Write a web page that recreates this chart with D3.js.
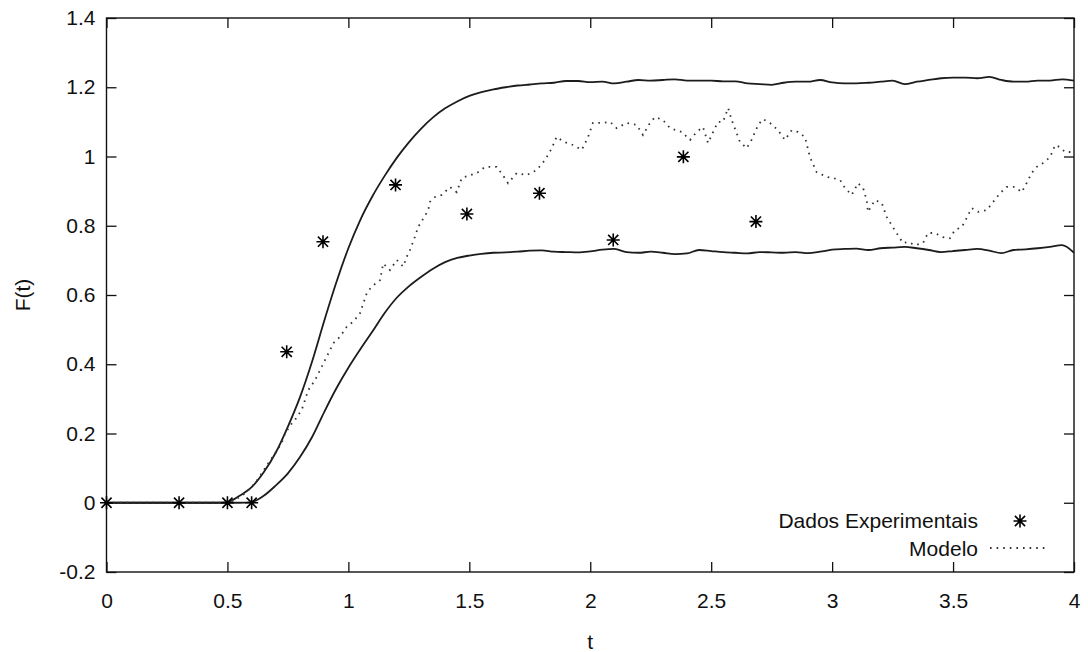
<!DOCTYPE html>
<html>
<head>
<meta charset="utf-8">
<script src="https://cdn.jsdelivr.net/npm/d3@7"></script>
<style>
  html, body { margin: 0; padding: 0; background: #fff; }
  svg { display: block; }
  text { font-family: "Liberation Sans", Arial, sans-serif; fill: #111; }
</style>
</head>
<body>
<svg id="chart" width="1088" height="652"></svg>
<script>
// Time grid shared by the two envelope curves (t)
const timeGrid = [
  0.00, 0.05, 0.10, 0.15, 0.20, 0.25, 0.30, 0.35, 0.40, 0.45,
  0.50, 0.55, 0.60, 0.65, 0.70, 0.75, 0.80, 0.85, 0.90, 0.95,
  1.00, 1.05, 1.10, 1.15, 1.20, 1.25, 1.30, 1.35, 1.40, 1.45,
  1.50, 1.55, 1.60, 1.65, 1.70, 1.75, 1.80, 1.85, 1.90, 1.95,
  2.00, 2.05, 2.10, 2.15, 2.20, 2.25, 2.30, 2.35, 2.40, 2.45,
  2.50, 2.55, 2.60, 2.65, 2.70, 2.75, 2.80, 2.85, 2.90, 2.95,
  3.00, 3.05, 3.10, 3.15, 3.20, 3.25, 3.30, 3.35, 3.40, 3.45,
  3.50, 3.55, 3.60, 3.65, 3.70, 3.75, 3.80, 3.85, 3.90, 3.95,
  4.00
];

// Upper envelope F(t)
const upperF = [
  0, 0, 0, 0, 0, 0, 0, 0, 0, 0,
  0.002, 0.020, 0.045, 0.088, 0.145, 0.220, 0.305, 0.408, 0.525, 0.636,
  0.735, 0.818, 0.886, 0.944, 0.996, 1.041, 1.080, 1.113, 1.139, 1.159,
  1.175, 1.186, 1.194, 1.200, 1.205, 1.208, 1.211, 1.213, 1.218, 1.218,
  1.215, 1.216, 1.211, 1.216, 1.221, 1.219, 1.221, 1.223, 1.219, 1.219,
  1.219, 1.217, 1.217, 1.211, 1.209, 1.207, 1.213, 1.216, 1.216, 1.221,
  1.214, 1.211, 1.211, 1.213, 1.216, 1.219, 1.209, 1.216, 1.221, 1.226,
  1.228, 1.228, 1.226, 1.230, 1.221, 1.216, 1.216, 1.219, 1.219, 1.223,
  1.219
];

// Lower envelope F(t)
const lowerF = [
  0, 0, 0, 0, 0, 0, 0, 0, 0, 0,
  0, 0, 0.002, 0.020, 0.050, 0.085, 0.132, 0.190, 0.262, 0.330,
  0.390, 0.444, 0.495, 0.548, 0.592, 0.625, 0.652, 0.676, 0.695, 0.707,
  0.714, 0.719, 0.722, 0.723, 0.725, 0.728, 0.729, 0.725, 0.724, 0.723,
  0.726, 0.731, 0.733, 0.724, 0.722, 0.725, 0.722, 0.718, 0.720, 0.730,
  0.727, 0.724, 0.722, 0.720, 0.724, 0.723, 0.722, 0.724, 0.721, 0.725,
  0.731, 0.733, 0.734, 0.730, 0.735, 0.737, 0.739, 0.735, 0.730, 0.724,
  0.727, 0.730, 0.733, 0.728, 0.721, 0.730, 0.732, 0.735, 0.739, 0.744,
  0.722
];

// Model curve ("Modelo")
const modelT = [
  0.000, 0.500, 0.531, 0.573, 0.614, 0.642, 0.669, 0.697, 0.724, 0.738,
  0.766, 0.779, 0.807, 0.821, 0.834, 0.862, 0.890, 0.917, 0.938, 0.965,
  0.993, 1.020, 1.048, 1.076, 1.096, 1.131, 1.144, 1.172, 1.200, 1.227,
  1.241, 1.255, 1.275, 1.289, 1.310, 1.330, 1.337, 1.358, 1.386, 1.420,
  1.448, 1.469, 1.503, 1.531, 1.565, 1.613, 1.639, 1.660, 1.696, 1.737,
  1.779, 1.813, 1.841, 1.861, 1.889, 1.930, 1.965, 1.991, 2.011, 2.053,
  2.082, 2.109, 2.151, 2.192, 2.218, 2.247, 2.268, 2.301, 2.330, 2.378,
  2.413, 2.440, 2.466, 2.487, 2.508, 2.528, 2.549, 2.570, 2.585, 2.605,
  2.619, 2.647, 2.667, 2.694, 2.714, 2.743, 2.776, 2.805, 2.833, 2.859,
  2.888, 2.908, 2.936, 2.978, 3.004, 3.033, 3.053, 3.081, 3.107, 3.128,
  3.143, 3.148, 3.177, 3.205, 3.226, 3.246, 3.272, 3.293, 3.314, 3.343,
  3.376, 3.396, 3.425, 3.458, 3.487, 3.508, 3.536, 3.556, 3.577, 3.603,
  3.639, 3.665, 3.694, 3.722, 3.756, 3.784, 3.804, 3.825, 3.846, 3.872,
  3.901, 3.922, 3.942, 3.963, 3.996
];
const modelF = [
  0.000, 0.000, 0.008, 0.027, 0.056, 0.085, 0.114, 0.143, 0.172, 0.200,
  0.229, 0.239, 0.268, 0.297, 0.325, 0.354, 0.393, 0.431, 0.461, 0.479,
  0.508, 0.523, 0.547, 0.605, 0.624, 0.643, 0.691, 0.672, 0.701, 0.682,
  0.710, 0.730, 0.768, 0.797, 0.821, 0.845, 0.869, 0.883, 0.889, 0.912,
  0.897, 0.938, 0.946, 0.952, 0.970, 0.970, 0.946, 0.923, 0.952, 0.946,
  0.961, 0.990, 1.024, 1.057, 1.043, 1.033, 1.019, 1.056, 1.097, 1.097,
  1.100, 1.082, 1.097, 1.091, 1.062, 1.097, 1.114, 1.105, 1.082, 1.071,
  1.048, 1.071, 1.085, 1.039, 1.071, 1.100, 1.100, 1.140, 1.105, 1.068,
  1.042, 1.024, 1.048, 1.091, 1.108, 1.097, 1.076, 1.048, 1.076, 1.071,
  1.056, 0.999, 0.955, 0.941, 0.938, 0.932, 0.909, 0.889, 0.923, 0.909,
  0.874, 0.840, 0.874, 0.866, 0.825, 0.802, 0.773, 0.750, 0.753, 0.744,
  0.750, 0.779, 0.779, 0.767, 0.764, 0.788, 0.796, 0.822, 0.851, 0.840,
  0.845, 0.868, 0.894, 0.912, 0.912, 0.897, 0.923, 0.952, 0.970, 0.981,
  0.998, 1.033, 1.027, 1.013, 1.013
];

// Experimental data ("Dados Experimentais")
const expT = [0, 0.30, 0.50, 0.60, 0.745, 0.895, 1.195, 1.49, 1.79, 2.095, 2.385, 2.685];
const expF = [0, 0, 0, 0, 0.436, 0.754, 0.918, 0.834, 0.894, 0.759, 0.999, 0.812];

// Axis ticks
const xTicks = [0, 0.5, 1, 1.5, 2, 2.5, 3, 3.5, 4];
const xTickLabels = ["0", "0.5", "1", "1.5", "2", "2.5", "3", "3.5", "4"];
const yTicks = [-0.2, 0, 0.2, 0.4, 0.6, 0.8, 1, 1.2, 1.4];
const yTickLabels = ["-0.2", "0", "0.2", "0.4", "0.6", "0.8", "1", "1.2", "1.4"];

const legendLabels = ["Dados Experimentais", "Modelo"];
const axisTitles = { x: "t", y: "F(t)" };

// ---- layout ----
const plot = { left: 106.5, right: 1074, top: 18, bottom: 572 };
const fontSize = 21;
const ink = "#111";

const svg = d3.select("#chart");

const x = d3.scaleLinear().domain([0, 4]).range([plot.left, plot.right]);
const y = d3.scaleLinear().domain([-0.2, 1.4]).range([plot.bottom, plot.top]);

function styleAxis(g) {
  g.select(".domain").remove();
  g.selectAll(".tick line").attr("stroke", ink).attr("stroke-width", 1.3);
  g.selectAll(".tick text").attr("font-size", fontSize).attr("font-family", "Liberation Sans, Arial, sans-serif").attr("fill", ink);
  g.attr("font-size", fontSize);
}

const tick = 10;

// bottom axis with labels
svg.append("g")
  .attr("transform", `translate(0,${plot.bottom})`)
  .call(d3.axisBottom(x).tickValues(xTicks)
    .tickFormat((d, i) => xTickLabels[i])
    .tickSize(-tick).tickSizeOuter(0).tickPadding(21))
  .call(styleAxis);

// left axis with labels
svg.append("g")
  .attr("transform", `translate(${plot.left},0)`)
  .call(d3.axisLeft(y).tickValues(yTicks)
    .tickFormat((d, i) => yTickLabels[i])
    .tickSize(-tick).tickSizeOuter(0).tickPadding(11))
  .call(styleAxis);

// mirrored ticks on top and right
svg.append("g")
  .attr("transform", `translate(0,${plot.top})`)
  .call(d3.axisTop(x).tickValues(xTicks).tickFormat("").tickSize(-tick).tickSizeOuter(0))
  .call(styleAxis);
svg.append("g")
  .attr("transform", `translate(${plot.right},0)`)
  .call(d3.axisRight(y).tickValues(yTicks).tickFormat("").tickSize(-tick).tickSizeOuter(0))
  .call(styleAxis);

// frame
svg.append("rect")
  .attr("x", plot.left).attr("y", plot.top)
  .attr("width", plot.right - plot.left).attr("height", plot.bottom - plot.top)
  .attr("fill", "none").attr("stroke", ink).attr("stroke-width", 1.4);

// axis titles
svg.append("text")
  .attr("x", (plot.left + plot.right) / 2).attr("y", 649)
  .attr("text-anchor", "middle")
  .attr("font-size", fontSize).text(axisTitles.x);
svg.append("text")
  .attr("transform", `translate(22,${(plot.top + plot.bottom) / 2}) rotate(-90)`)
  .attr("text-anchor", "middle").attr("dominant-baseline", "central")
  .attr("font-size", fontSize).text(axisTitles.y);

// ---- curves ----
svg.append("clipPath").attr("id", "plotclip")
  .append("rect").attr("x", plot.left).attr("y", plot.top)
  .attr("width", plot.right - plot.left).attr("height", plot.bottom - plot.top);

const layer = svg.append("g").attr("clip-path", "url(#plotclip)");

const smooth = d3.line().x(d => x(d[0])).y(d => y(d[1])).curve(d3.curveMonotoneX);
const line = d3.line().x(d => x(d[0])).y(d => y(d[1]));

const upper = timeGrid.map((t, i) => [t, upperF[i]]);
const lower = timeGrid.map((t, i) => [t, lowerF[i]]);
const model = modelT.map((t, i) => [t, modelF[i]]);

[upper, lower].forEach(series => {
  layer.append("path")
    .attr("d", smooth(series))
    .attr("fill", "none")
    .attr("stroke", "#1c1c1c")
    .attr("stroke-width", 1.8)
    .attr("stroke-linejoin", "round");
});

const dotted = { stroke: "#333", width: 1.8, dash: "1.6,5" };

layer.append("path")
  .attr("d", line(model))
  .attr("fill", "none")
  .attr("stroke", dotted.stroke)
  .attr("stroke-width", dotted.width)
  .attr("stroke-dasharray", dotted.dash);

// asterisk marker: a "+" combined with an "x"
const asterisk = {
  draw(ctx, size) {
    const r = Math.sqrt(size) / 2;
    const d = r * 0.78;
    ctx.moveTo(-r, 0); ctx.lineTo(r, 0);
    ctx.moveTo(0, -r); ctx.lineTo(0, r);
    ctx.moveTo(-d, -d); ctx.lineTo(d, d);
    ctx.moveTo(-d, d); ctx.lineTo(d, -d);
  }
};
const marker = d3.symbol().type(asterisk).size(169);

svg.append("g")
  .selectAll("path")
  .data(expT.map((t, i) => [t, expF[i]]))
  .join("path")
  .attr("transform", d => `translate(${x(d[0])},${y(d[1])})`)
  .attr("d", marker)
  .attr("fill", "none")
  .attr("stroke", "#000")
  .attr("stroke-width", 1.6);

// ---- legend ----
const legend = svg.append("g");
const legendTextX = 978;
const legendRows = [520, 548];

legend.selectAll("text")
  .data(legendLabels)
  .join("text")
  .attr("x", legendTextX)
  .attr("y", (d, i) => legendRows[i])
  .attr("text-anchor", "end")
  .attr("dominant-baseline", "central")
  .attr("font-size", fontSize)
  .text(d => d);

legend.append("path")
  .attr("transform", `translate(1020,${legendRows[0] + 1})`)
  .attr("d", marker)
  .attr("fill", "none")
  .attr("stroke", "#000")
  .attr("stroke-width", 1.6);

legend.append("line")
  .attr("x1", 990).attr("x2", 1048)
  .attr("y1", legendRows[1]).attr("y2", legendRows[1])
  .attr("stroke", dotted.stroke)
  .attr("stroke-width", dotted.width)
  .attr("stroke-dasharray", dotted.dash);
</script>
</body>
</html>
